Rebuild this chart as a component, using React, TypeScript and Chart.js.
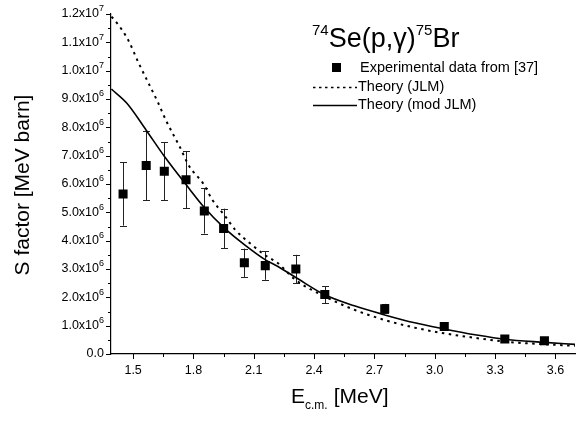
import React, { useEffect, useRef } from "react";
import { Chart, registerables } from "chart.js";

Chart.register(...registerables);

// ---------- data ----------
const expEnergy = [1.45, 1.565, 1.655, 1.763, 1.854, 1.95, 2.053, 2.157, 2.309, 2.453, 2.751, 3.047, 3.348, 3.545];
const expSFactor = [5.65e6, 6.65e6, 6.45e6, 6.15e6, 5.05e6, 4.43e6, 3.22e6, 3.12e6, 3.0e6, 2.1e6, 1.6e6, 0.97e6, 0.53e6, 0.47e6];
const expError = [1.12e6, 1.23e6, 1.02e6, 1.0e6, 0.8e6, 0.7e6, 0.5e6, 0.5e6, 0.5e6, 0.3e6, 0.17e6, 0.1e6, 0.05e6, 0.05e6];

const jlmEnergy = [1.392, 1.404, 1.477, 1.526, 1.575, 1.624, 1.665, 1.73, 1.779, 1.852, 1.893, 1.958, 2.007, 2.089, 2.154, 2.219, 2.307, 2.453, 2.6, 2.751, 2.9, 3.046, 3.2, 3.344, 3.5, 3.697];
const jlmSFactor = [11.9e6, 11.82e6, 11.06e6, 10.29e6, 9.58e6, 8.87e6, 8.22e6, 7.34e6, 6.63e6, 5.98e6, 5.45e6, 4.86e6, 4.39e6, 3.86e6, 3.5e6, 3.21e6, 2.62e6, 2.03e6, 1.56e6, 1.2e6, 0.93e6, 0.73e6, 0.57e6, 0.44e6, 0.36e6, 0.29e6];

const modEnergy = [1.392, 1.469, 1.565, 1.655, 1.763, 1.854, 1.95, 2.053, 2.156, 2.22, 2.307, 2.453, 2.6, 2.751, 2.9, 3.046, 3.2, 3.344, 3.545, 3.697];
const modSFactor = [9.35e6, 8.85e6, 7.9e6, 6.98e6, 5.98e6, 5.17e6, 4.47e6, 3.86e6, 3.33e6, 3.09e6, 2.71e6, 2.09e6, 1.7e6, 1.38e6, 1.1e6, 0.885e6, 0.68e6, 0.52e6, 0.41e6, 0.34e6];

const xMajorTicks = [1.5, 1.8, 2.1, 2.4, 2.7, 3.0, 3.3, 3.6];
const xMinorTicks = [1.65, 1.95, 2.25, 2.55, 2.85, 3.15, 3.45];
const xTickLabels = ["1.5", "1.8", "2.1", "2.4", "2.7", "3.0", "3.3", "3.6"];

const yMajorTicks = [0, 1e6, 2e6, 3e6, 4e6, 5e6, 6e6, 7e6, 8e6, 9e6, 1e7, 1.1e7, 1.2e7];
const yMinorTicks = [0.5e6, 1.5e6, 2.5e6, 3.5e6, 4.5e6, 5.5e6, 6.5e6, 7.5e6, 8.5e6, 9.5e6, 1.05e7, 1.15e7];
const yTickMantissa = ["0.0", "1.0x10", "2.0x10", "3.0x10", "4.0x10", "5.0x10", "6.0x10", "7.0x10", "8.0x10", "9.0x10", "1.0x10", "1.1x10", "1.2x10"];
const yTickExponent = ["", "6", "6", "6", "6", "6", "6", "6", "6", "6", "7", "7", "7"];

const legendLabels = ["Experimental data from [37]", "Theory (JLM)", "Theory (mod JLM)"];
const FONT = '"Liberation Sans", Arial, sans-serif';

const decorPlugin = {
  id: "decor",
  beforeDatasetsDraw(chart: any) {
    const ctx = chart.ctx;
    const xs = chart.scales.x;
    const ys = chart.scales.y;
    ctx.save();
    ctx.strokeStyle = "#222";
    ctx.lineWidth = 1;
    for (let i = 0; i < expEnergy.length; i++) {
      const px = Math.round(xs.getPixelForValue(expEnergy[i])) + 0.5;
      const yt = ys.getPixelForValue(expSFactor[i] + expError[i]);
      const yb = ys.getPixelForValue(expSFactor[i] - expError[i]);
      ctx.beginPath();
      ctx.moveTo(px, yt);
      ctx.lineTo(px, yb);
      ctx.moveTo(px - 3.5, Math.round(yt) + 0.5);
      ctx.lineTo(px + 3.5, Math.round(yt) + 0.5);
      ctx.moveTo(px - 3.5, Math.round(yb) + 0.5);
      ctx.lineTo(px + 3.5, Math.round(yb) + 0.5);
      ctx.stroke();
    }
    ctx.restore();
  },
  afterDraw(chart: any) {
    const ctx = chart.ctx;
    const xs = chart.scales.x;
    const ys = chart.scales.y;
    const { left, bottom } = chart.chartArea;
    ctx.save();
    ctx.strokeStyle = "#000";
    ctx.fillStyle = "#000";
    ctx.lineWidth = 1;
    // tick marks
    ctx.beginPath();
    yMajorTicks.forEach((v) => {
      const py = Math.round(ys.getPixelForValue(v)) + 0.5;
      ctx.moveTo(left - 5, py);
      ctx.lineTo(left, py);
    });
    yMinorTicks.forEach((v) => {
      const py = Math.round(ys.getPixelForValue(v)) + 0.5;
      ctx.moveTo(left - 3, py);
      ctx.lineTo(left, py);
    });
    xMajorTicks.forEach((v) => {
      const px = Math.round(xs.getPixelForValue(v)) + 0.5;
      ctx.moveTo(px, bottom);
      ctx.lineTo(px, bottom + 5);
    });
    xMinorTicks.forEach((v) => {
      const px = Math.round(xs.getPixelForValue(v)) + 0.5;
      ctx.moveTo(px, bottom);
      ctx.lineTo(px, bottom + 3);
    });
    ctx.stroke();

    // x tick labels
    ctx.font = `12.5px ${FONT}`;
    ctx.textAlign = "center";
    ctx.textBaseline = "middle";
    xMajorTicks.forEach((v, i) => {
      ctx.fillText(xTickLabels[i], xs.getPixelForValue(v), bottom + 17);
    });

    // y tick labels with superscript exponent
    yMajorTicks.forEach((v, i) => {
      const py = ys.getPixelForValue(v);
      const right = left - 7;
      ctx.textBaseline = "middle";
      let mx = right;
      if (yTickExponent[i]) {
        ctx.font = `9px ${FONT}`;
        ctx.textAlign = "left";
        const ew = ctx.measureText(yTickExponent[i]).width;
        ctx.fillText(yTickExponent[i], right - ew, py - 5);
        mx = right - ew;
      }
      ctx.textAlign = "right";
      ctx.font = `12.5px ${FONT}`;
      ctx.fillText(yTickMantissa[i], mx, py);
    });

    // y axis title
    ctx.save();
    ctx.translate(23, 185);
    ctx.rotate(-Math.PI / 2);
    ctx.font = `21px ${FONT}`;
    ctx.textAlign = "center";
    ctx.textBaseline = "middle";
    ctx.fillText("S factor [MeV barn]", 0, 0);
    ctx.restore();

    // x axis title with subscript
    ctx.textAlign = "left";
    ctx.textBaseline = "alphabetic";
    const xtBase = 403;
    let tx = 291;
    ctx.font = `21px ${FONT}`;
    ctx.fillText("E", tx, xtBase);
    tx += ctx.measureText("E").width;
    ctx.font = `12px ${FONT}`;
    ctx.fillText("c.m.", tx, xtBase + 6);
    tx += ctx.measureText("c.m.").width + 6;
    ctx.font = `21px ${FONT}`;
    ctx.fillText("[MeV]", tx, xtBase);

    // reaction title
    const tBase = 47;
    let rx = 312;
    ctx.font = `15px ${FONT}`;
    ctx.fillText("74", rx, tBase - 12);
    rx += ctx.measureText("74").width;
    ctx.font = `27px ${FONT}`;
    ctx.fillText("Se(p,\u03b3)", rx, tBase);
    rx += ctx.measureText("Se(p,\u03b3)").width;
    ctx.font = `15px ${FONT}`;
    ctx.fillText("75", rx, tBase - 12);
    rx += ctx.measureText("75").width;
    ctx.font = `27px ${FONT}`;
    ctx.fillText("Br", rx, tBase);

    // legend
    ctx.font = `14.5px ${FONT}`;
    ctx.textBaseline = "middle";
    ctx.fillRect(332, 63, 9, 9);
    ctx.fillText(legendLabels[0], 360, 67.5);
    ctx.lineWidth = 1.5;
    ctx.setLineDash([2.5, 3.5]);
    ctx.beginPath();
    ctx.moveTo(313, 87.5);
    ctx.lineTo(357, 87.5);
    ctx.stroke();
    ctx.fillText(legendLabels[1], 358, 87);
    ctx.setLineDash([]);
    ctx.beginPath();
    ctx.moveTo(313, 105.5);
    ctx.lineTo(357, 105.5);
    ctx.stroke();
    ctx.fillText(legendLabels[2], 358, 105);
    ctx.restore();
  },
};

export default function App() {
  const canvasRef = useRef<HTMLCanvasElement>(null);

  useEffect(() => {
    const canvas = canvasRef.current;
    if (!canvas) return;
    const chart = new Chart(canvas, {
      type: "scatter",
      data: {
        datasets: [
          {
            label: "Theory (mod JLM)",
            data: modEnergy.map((x, i) => ({ x, y: modSFactor[i] })),
            showLine: true,
            borderColor: "#000",
            borderWidth: 1.6,
            pointRadius: 0,
            cubicInterpolationMode: "monotone",
            order: 2,
          } as any,
          {
            label: "Theory (JLM)",
            data: jlmEnergy.map((x, i) => ({ x, y: jlmSFactor[i] })),
            showLine: true,
            borderColor: "#000",
            borderWidth: 2,
            borderDash: [2.5, 4.5],
            pointRadius: 0,
            cubicInterpolationMode: "monotone",
            order: 3,
          } as any,
          {
            label: "Experimental data from [37]",
            data: expEnergy.map((x, i) => ({ x, y: expSFactor[i] })),
            showLine: false,
            pointStyle: "rect",
            pointRadius: 6.4,
            backgroundColor: "#000",
            borderColor: "#000",
            borderWidth: 0,
            order: 1,
          } as any,
        ],
      },
      options: {
        animation: false,
        responsive: false,
        maintainAspectRatio: false,
        layout: { padding: { top: 14, right: 0, left: 0, bottom: 0 } },
        plugins: {
          legend: { display: false },
          tooltip: { enabled: false },
        },
        scales: {
          x: {
            type: "linear",
            min: 1.39,
            max: 3.7,
            grid: { display: false },
            border: { display: true, color: "#000", width: 1.2 },
            ticks: { display: false },
            afterFit: (s: any) => {
              s.height = 68;
            },
          },
          y: {
            type: "linear",
            min: 0,
            max: 1.2e7,
            grid: { display: false },
            border: { display: true, color: "#000", width: 1.2 },
            ticks: { display: false },
            afterFit: (s: any) => {
              s.width = 111;
            },
          },
        },
      } as any,
      plugins: [decorPlugin],
    });
    return () => chart.destroy();
  }, []);

  return (
    <div style={{ position: "fixed", left: 0, top: 0, width: 582, height: 422, background: "#fff" }}>
      <canvas ref={canvasRef} width={582} height={422} style={{ width: 582, height: 422 }} />
    </div>
  );
}
